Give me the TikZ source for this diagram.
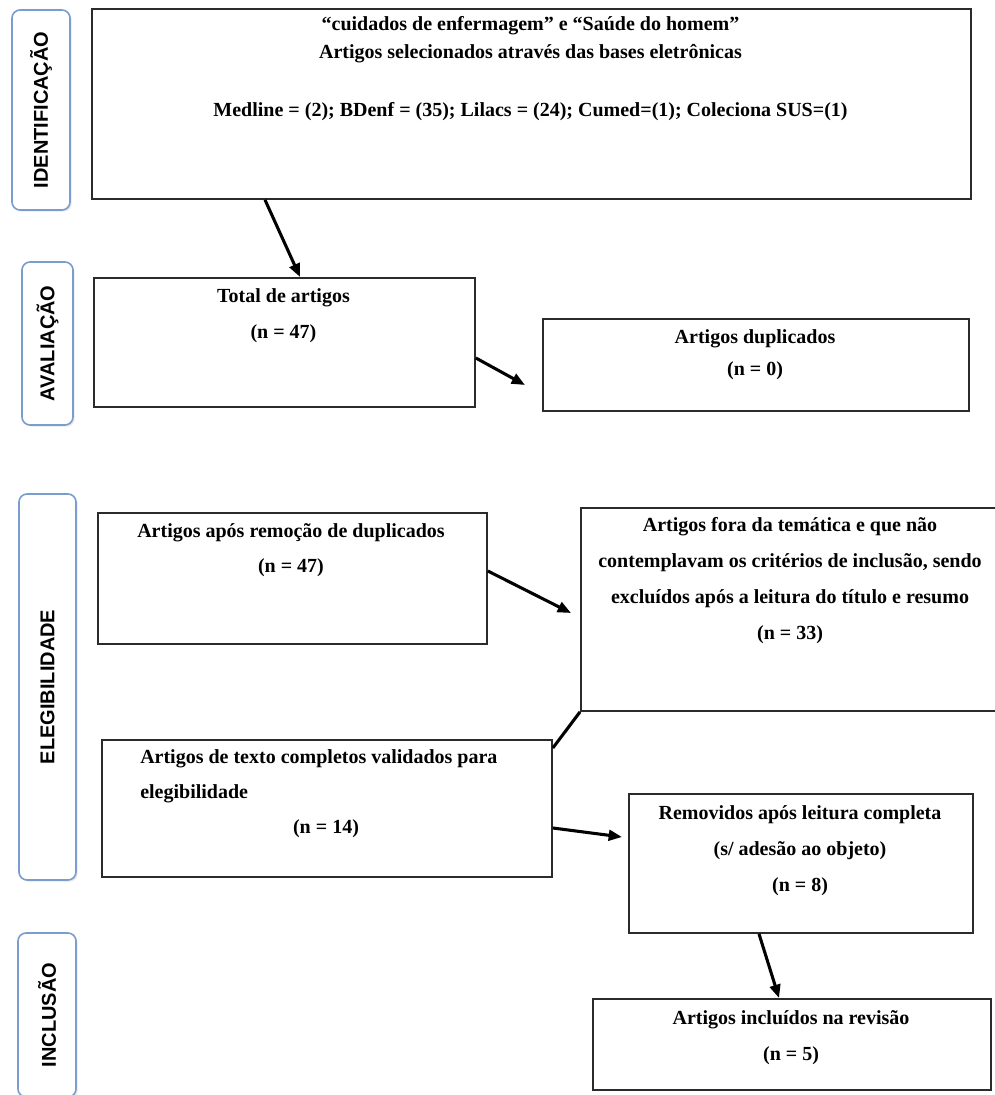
\documentclass[tikz,border=0pt]{standalone}
\usepackage{fontspec}
\setmainfont{Liberation Serif}
\newfontfamily\labfont{Liberation Sans}
\usetikzlibrary{arrows.meta,shadows,calc}
\definecolor{boxline}{HTML}{2B2B2B}
\definecolor{labline}{HTML}{7A9CCF}
\begin{document}
\begin{tikzpicture}[x=0.75pt,y=-0.75pt,
  box/.style={draw=boxline, line width=1.4pt, fill=white, inner sep=0pt, anchor=north west},
  txt/.style={font=\bfseries\fontsize{15}{27}\selectfont, align=center, inner sep=0pt, anchor=north},
  lab/.style={draw=labline, line width=1.2pt, rounded corners=6pt, fill=white, rotate=90,
     font=\labfont\bfseries\fontsize{15}{18}\selectfont, inner sep=0pt,
     drop shadow={opacity=0.18, shadow xshift=1.2pt, shadow yshift=-1.2pt}},
  arr/.style={line width=2.3pt, draw=black, -{Triangle[length=10pt,width=8pt]}},
  lin/.style={line width=2.3pt, draw=black}]
\useasboundingbox (0,0) rectangle (995,1095);
\clip (0,0) rectangle (995,1095);
\fill[white] (0,0) rectangle (995,1095);

% side labels
\node[lab, minimum width=200*0.75pt, minimum height=58*0.75pt] (lid) at (41,110) {IDENTIFICAÇÃO};
\node[lab, minimum width=163*0.75pt, minimum height=51*0.75pt] (lav) at (47.5,343.5) {AVALIAÇÃO};
\node[lab, minimum width=386*0.75pt, minimum height=57*0.75pt] (lel) at (47.5,687) {ELEGIBILIDADE};
\node[lab, minimum width=164*0.75pt, minimum height=58*0.75pt] (lin) at (47,1015) {INCLUSÃO};

% boxes
\node[box, minimum width=879*0.75pt, minimum height=190*0.75pt] (top) at (91,8) {};
\node[box, minimum width=381*0.75pt, minimum height=129*0.75pt] (tot) at (93,277) {};
\node[box, minimum width=426*0.75pt, minimum height=92*0.75pt] (dup) at (542,318) {};
\node[box, minimum width=389*0.75pt, minimum height=131*0.75pt] (apos) at (97,512) {};
\node[box, minimum width=430*0.75pt, minimum height=203*0.75pt] (fora) at (580,507) {};
\node[box, minimum width=450*0.75pt, minimum height=137*0.75pt] (texto) at (101,739) {};
\node[box, minimum width=344*0.75pt, minimum height=139*0.75pt] (rem) at (628,793) {};
\node[box, minimum width=398*0.75pt, minimum height=91*0.75pt] (inc) at (592,998) {};

% texts
\node[txt, font=\bfseries\fontsize{15}{21}\selectfont] (topT) at (530.5,16) {“cuidados de enfermagem” e “Saúde do homem”\\Artigos selecionados através das bases eletrônicas\\[22.5pt]Medline = (2); BDenf = (35); Lilacs = (24); Cumed=(1); Coleciona SUS=(1)};
\node[txt, font=\bfseries\fontsize{15}{27.5}\selectfont] (totT) at (283.5,288) {Total de artigos\\(n = 47)};
\node[txt, font=\bfseries\fontsize{15}{24}\selectfont] (dupT) at (755,329) {Artigos duplicados\\(n = 0)};
\node[txt, font=\bfseries\fontsize{15}{26.5}\selectfont] (aposT) at (291,523) {Artigos após remoção de duplicados\\(n = 47)};
\node[txt] (foraT) at (790,517) {Artigos fora da temática e que não\\contemplavam os critérios de inclusão, sendo\\excluídos após a leitura do título e resumo\\(n = 33)};
\node[txt, align=left, anchor=north west, font=\bfseries\fontsize{15}{26.5}\selectfont] (textoT) at (140,749) {Artigos de texto completos validados para\\elegibilidade};
\node[txt] (textoN) at (326,819) {(n = 14)};
\node[txt] (remT) at (800,805) {Removidos após leitura completa\\(s/ adesão ao objeto)\\(n = 8)};
\node[txt, font=\bfseries\fontsize{15}{27.5}\selectfont] (incT) at (791,1010) {Artigos incluídos na revisão\\(n = 5)};

% connectors
\draw[arr] (top.south -| 265,0) -- (tot.north -| 300,0);
\draw[arr] (tot.east |- 0,358) -- ($(dup.west |- 0,385)+(-17,0)$);
\draw[arr] (apos.east |- 0,571) -- ($(fora.west |- 0,613)+(-9,0)$);
\draw[lin] (fora.south west) -- (texto.east |- 0,748);
\draw[arr] (texto.east |- 0,828) -- ($(rem.west |- 0,837)+(-6,0)$);
\draw[arr] (rem.south -| 759,0) -- (inc.north -| 779,0);
\end{tikzpicture}
\end{document}
